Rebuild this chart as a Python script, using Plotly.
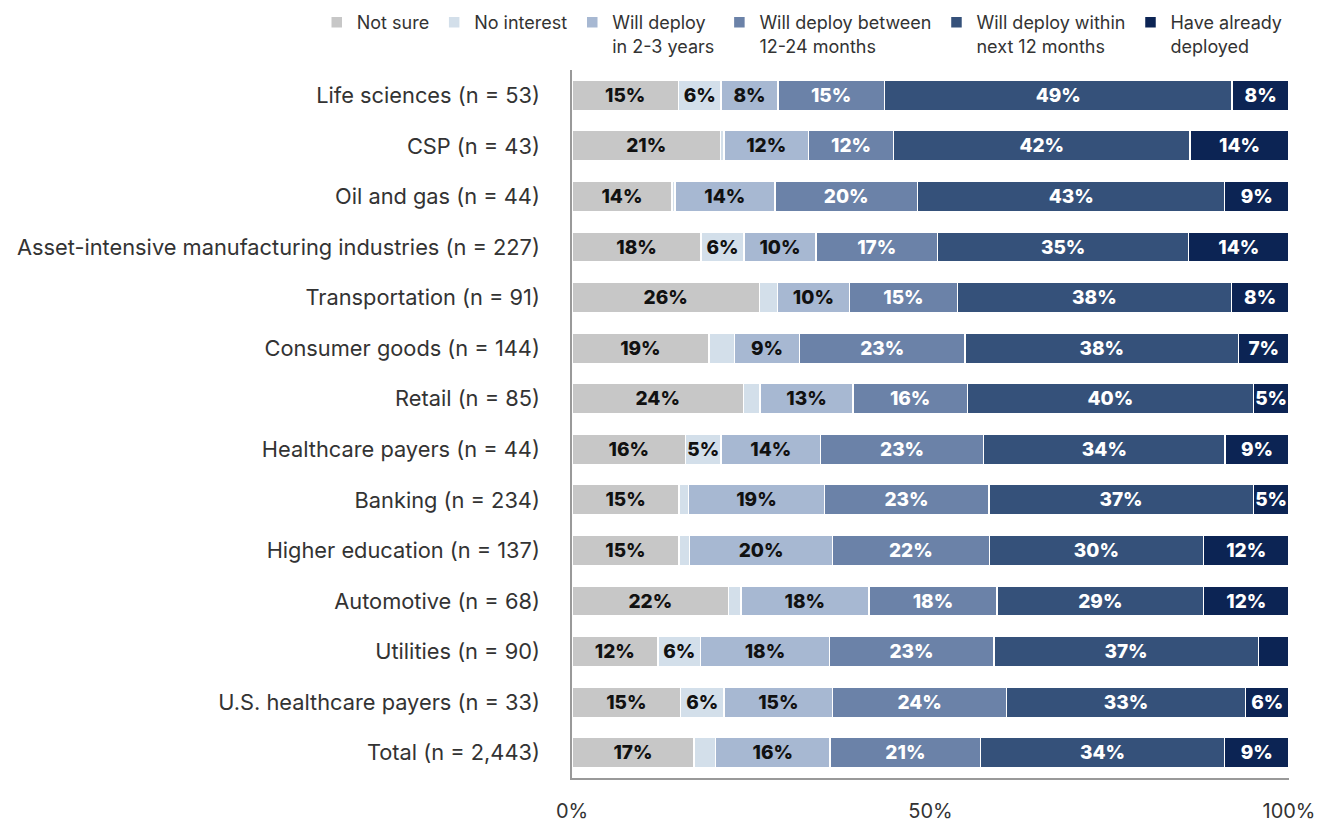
import plotly.graph_objects as go

categories = [
    "Life sciences (n = 53)",
    "CSP (n = 43)",
    "Oil and gas (n = 44)",
    "Asset-intensive manufacturing industries (n = 227)",
    "Transportation (n = 91)",
    "Consumer goods (n = 144)",
    "Retail (n = 85)",
    "Healthcare payers (n = 44)",
    "Banking (n = 234)",
    "Higher education (n = 137)",
    "Automotive (n = 68)",
    "Utilities (n = 90)",
    "U.S. healthcare payers (n = 33)",
    "Total (n = 2,443)",
]

series_names = [
    "Not sure",
    "No interest",
    "Will deploy<br>in 2-3 years",
    "Will deploy between<br>12-24 months",
    "Will deploy within<br>next 12 months",
    "Have already<br>deployed",
]

not_sure = [15, 21, 14, 18, 26, 19, 24, 16, 15, 15, 22, 12, 15, 17]
no_interest = [6, 0.5, 0.4, 6, 2.5, 3.6, 2.3, 5, 1.3, 1.5, 1.7, 6, 6, 3]
deploy_2_3_years = [8, 12, 14, 10, 10, 9, 13, 14, 19, 20, 18, 18, 15, 16]
deploy_12_24_months = [15, 12, 20, 17, 15, 23, 16, 23, 23, 22, 18, 23, 24, 21]
deploy_next_12_months = [49, 42, 43, 35, 38, 38, 40, 34, 37, 30, 29, 37, 33, 34]
already_deployed = [8, 14, 9, 14, 8, 7, 5, 9, 5, 12, 12, 4.3, 6, 9]

series_values = [not_sure, no_interest, deploy_2_3_years,
                 deploy_12_24_months, deploy_next_12_months, already_deployed]

colors = ["#c7c7c7", "#d3dfea", "#a7b8d2", "#6b82a8", "#35517a", "#0c2454"]
text_colors = ["#111111", "#111111", "#111111", "#ffffff", "#ffffff", "#ffffff"]

tick_vals = [0, 50, 100]
tick_text = ["0%", "50%", "100%"]

totals = [sum(vals[i] for vals in series_values) for i in range(len(categories))]

fig = go.Figure()
for name, vals, col, tcol in zip(series_names, series_values, colors, text_colors):
    widths = [v / t * 100 for v, t in zip(vals, totals)]
    labels = [f"{round(v)}%" if v >= 4.5 else "" for v in vals]
    fig.add_trace(go.Bar(
        y=categories, x=widths, orientation="h", name=name,
        marker=dict(color=col, line=dict(color="white", width=1.5)),
        text=labels, textposition="inside", insidetextanchor="middle",
        textangle=0, constraintext="none",
        textfont=dict(color=tcol, size=19, family="Inter", weight=800),
        hoverinfo="skip",
    ))

fig.update_layout(
    barmode="stack",
    bargap=0.40,
    width=1321, height=824,
    margin=dict(l=572, r=32, t=70, b=46, autoexpand=False),
    paper_bgcolor="white", plot_bgcolor="white",
    font=dict(family="Inter", color="#333333"),
    uniformtext=dict(minsize=19, mode="show"),
    showlegend=True,
    legend=dict(
        orientation="h", x=-0.356, xanchor="left", y=1.093, yanchor="top",
        font=dict(size=18, color="#333333"), traceorder="normal",
        itemwidth=30, valign="top", bgcolor="rgba(0,0,0,0)",
    ),
    xaxis=dict(
        range=[0, 100], tickvals=tick_vals, ticktext=tick_text,
        showgrid=False, zeroline=False, showline=True, linecolor="#999999",
        linewidth=1.5, ticks="", tickfont=dict(size=20, color="#333333"),
        ticklabelstandoff=14, automargin=False,
    ),
    yaxis=dict(
        autorange="reversed", showgrid=False, zeroline=False, showline=True,
        linecolor="#999999", linewidth=1.5, ticks="", automargin=False,
        tickfont=dict(size=21.8, color="#333333"), ticklabelstandoff=26,
    ),
)

fig.write_html("out.html")
